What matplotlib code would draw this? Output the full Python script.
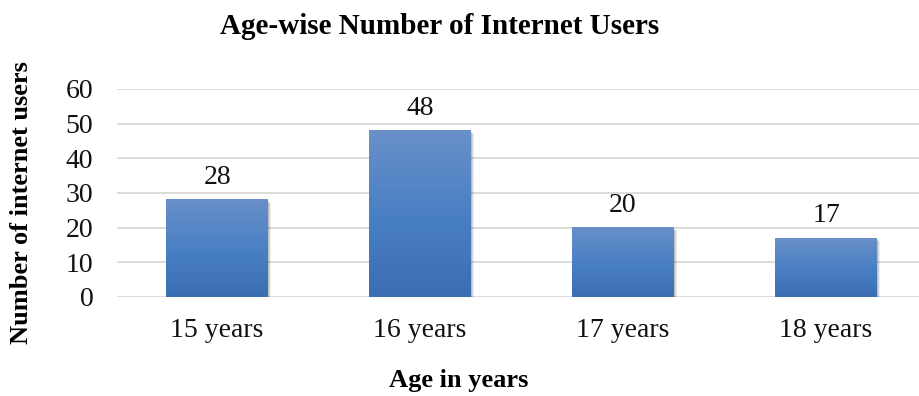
import numpy as np
import matplotlib
matplotlib.use("Agg")
import matplotlib.pyplot as plt
import matplotlib.transforms as mtransforms
from matplotlib.colors import LinearSegmentedColormap

# data
ages = ["15 years", "16 years", "17 years", "18 years"]
users = [28, 48, 20, 17]
y_ticks = [0, 10, 20, 30, 40, 50, 60]

plt.rcParams['font.family'] = ['Liberation Serif', 'DejaVu Serif']

fig = plt.figure(figsize=(9.19, 3.96), dpi=100)
ax = fig.add_axes([117 / 919, 1 - 297 / 396, 802 / 919, 208 / 396])

bar_w = 0.5
grad = LinearSegmentedColormap.from_list("bargrad", ["#3a6eb3", "#4a80c4", "#6990c9"])
x = np.arange(len(ages))

bars = ax.bar(x, users, width=bar_w, color="none", zorder=3)
for b, v in zip(bars, users):
    x0, y0 = b.get_x(), b.get_y()
    w, h = b.get_width(), b.get_height()
    # soft shadow to the right / bottom
    for k, a in [(4, 0.07), (3, 0.09), (2, 0.12)]:
        tr = mtransforms.offset_copy(ax.transData, fig=fig, x=k * 0.6, y=-k * 0.5, units="points")
        ax.add_patch(plt.Rectangle((x0, y0), w, h, transform=tr, color="black", alpha=a, lw=0, zorder=2))
    ax.imshow(np.linspace(0, 1, 256).reshape(-1, 1), cmap=grad, aspect="auto",
              extent=(x0, x0 + w, y0, y0 + h), origin="lower", zorder=3,
              interpolation="bilinear")
    ax.annotate(str(v), (x0 + w / 2, v), xytext=(0, 7), textcoords="offset points",
                ha="center", va="bottom", fontsize=20, color="#111111")

ax.set_xlim(-0.493, 3.458)
ax.set_ylim(0, 60)
ax.set_yticks(y_ticks)
ax.set_xticks(x)
ax.set_xticklabels(ages)
ax.tick_params(axis="both", length=0, labelsize=20, colors="#111111")
ax.tick_params(axis="y", pad=17)
ax.tick_params(axis="x", pad=15)
ax.yaxis.grid(True, color="#d9d9d9", lw=1.3, zorder=0)
ax.set_axisbelow(True)
for s in ax.spines.values():
    s.set_visible(False)

fig.text(440 / 919, 1 - 27 / 396, "Age-wise Number of Internet Users", ha="center", va="center",
         fontsize=21, fontweight="bold")
fig.text(459 / 919, 1 - 381 / 396, "Age in years", ha="center", va="center",
         fontsize=19, fontweight="bold")
fig.text(22 / 919, 1 - 203 / 396, "Number of internet users", ha="center", va="center",
         rotation=90, fontsize=19, fontweight="bold")

fig.savefig("out.png", dpi=100)
